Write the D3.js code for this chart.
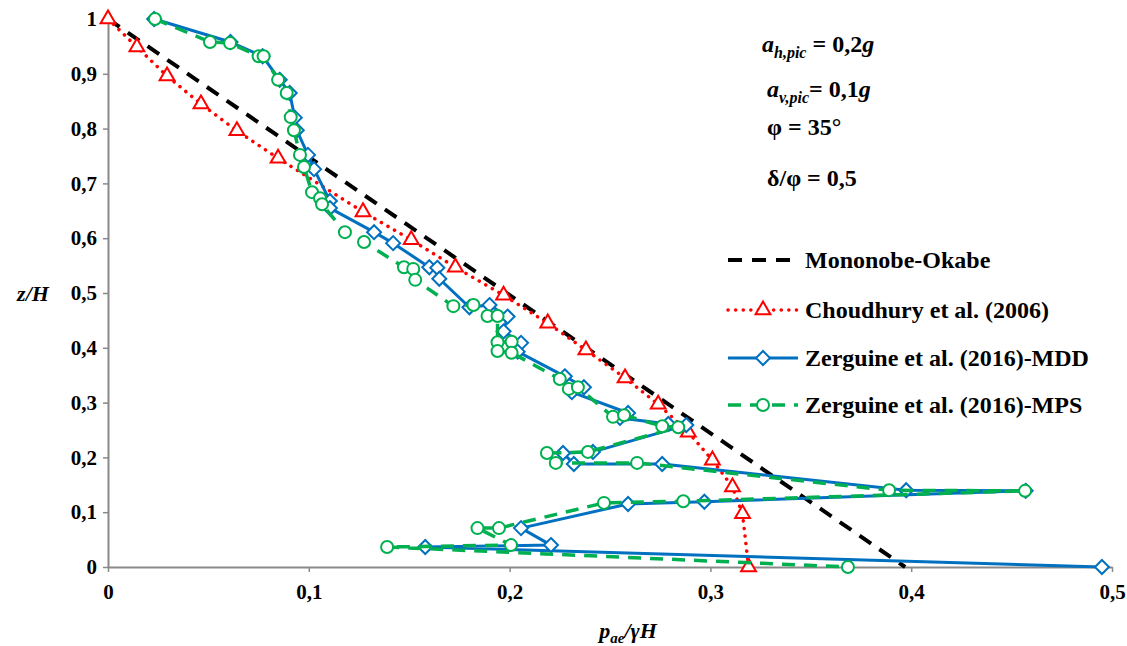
<!DOCTYPE html>
<html><head><meta charset="utf-8">
<script src="https://cdn.jsdelivr.net/npm/d3@7"></script>
<style>body{margin:0;background:#fff}svg{display:block}
svg text{font-family:"Liberation Serif","Times New Roman","Nimbus Roman","DejaVu Serif",serif !important;font-weight:bold;fill:#000}</style>
</head><body><svg id="c" width="1127" height="646"></svg>
<script>
// ---- data ----
const xTicks = [0, 0.1, 0.2, 0.3, 0.4, 0.5];
const yTicks = [0, 0.1, 0.2, 0.3, 0.4, 0.5, 0.6, 0.7, 0.8, 0.9, 1];
const seriesNames = ["Mononobe-Okabe", "Choudhury et al. (2006)", "Zerguine et al. (2016)-MDD", "Zerguine et al. (2016)-MPS"];
const mononobe = [[0, 1], [0.397, 0]];
const choudhury = [[0,1],[0.0144,0.949],[0.0294,0.896],[0.0463,0.845],[0.0642,0.796],[0.0847,0.746],[0.127,0.648],[0.151,0.597],[0.173,0.547],[0.197,0.496],[0.219,0.445],[0.238,0.396],[0.2575,0.345],[0.274,0.297],[0.289,0.246],[0.301,0.195],[0.311,0.146],[0.316,0.097],[0.319,0]];
const mdd = [[0.023,1],[0.061,0.958],[0.077,0.932],[0.0855,0.889],[0.0905,0.865],[0.093,0.82],[0.094,0.797],[0.0996,0.752],[0.1026,0.726],[0.1105,0.668],[0.1105,0.655],[0.1325,0.611],[0.142,0.591],[0.160,0.547],[0.164,0.546],[0.165,0.526],[0.180,0.474],[0.190,0.478],[0.199,0.457],[0.197,0.43],[0.2057,0.409],[0.204,0.393],[0.2275,0.348],[0.237,0.328],[0.231,0.319],[0.259,0.281],[0.255,0.272],[0.279,0.261],[0.288,0.259],[0.2415,0.21],[0.2266,0.208],[0.232,0.188],[0.276,0.188],[0.3975,0.14],[0.457,0.139],[0.297,0.119],[0.259,0.115],[0.2057,0.071],[0.2206,0.040],[0.158,0.0365],[0.495,0]];
const mps = [[0.0234,1],[0.0508,0.958],[0.0608,0.956],[0.075,0.932],[0.0775,0.932],[0.0847,0.889],[0.089,0.865],[0.091,0.821],[0.0926,0.797],[0.0956,0.752],[0.0976,0.730],[0.1016,0.684],[0.1056,0.673],[0.1066,0.662],[0.118,0.611],[0.1275,0.593],[0.1474,0.547],[0.152,0.544],[0.153,0.524],[0.172,0.476],[0.182,0.478],[0.189,0.458],[0.194,0.458],[0.194,0.41],[0.201,0.411],[0.194,0.394],[0.201,0.391],[0.225,0.343],[0.2295,0.325],[0.234,0.328],[0.2515,0.274],[0.257,0.277],[0.276,0.257],[0.284,0.255],[0.239,0.210],[0.2186,0.208],[0.223,0.190],[0.2635,0.19],[0.389,0.14],[0.4567,0.139],[0.2865,0.12],[0.247,0.117],[0.1947,0.071],[0.184,0.071],[0.2007,0.040],[0.139,0.0365],[0.3685,0]];

// ---- chart ----
const svg = d3.select("#c");
const x = d3.scaleLinear().domain([0, 0.5]).range([108, 1112]);
const y = d3.scaleLinear().domain([0, 1]).range([567, 19]);
const fmt = d => (d === 0 || d === 1) ? String(d) : d.toFixed(1).replace(".", ",");
const axisCol = "#898989";
const FONT = '"Liberation Serif","Times New Roman","Nimbus Roman","DejaVu Serif",serif';

const gx = svg.append("g").attr("transform", `translate(0,${y(0)})`)
  .call(d3.axisBottom(x).tickValues(xTicks).tickFormat(fmt).tickSize(5).tickPadding(12).tickSizeOuter(0));
const gy = svg.append("g").attr("transform", `translate(${x(0)},0)`)
  .call(d3.axisLeft(y).tickValues(yTicks).tickFormat(fmt).tickSize(5).tickPadding(6).tickSizeOuter(0));
[gx, gy].forEach(g => {
  g.attr("font-family", FONT);
  g.select(".domain").attr("stroke", axisCol).attr("stroke-width", 2);
  g.selectAll(".tick line").attr("stroke", axisCol).attr("stroke-width", 1.5);
  g.selectAll(".tick text").attr("font-size", 21).attr("font-weight", "bold").attr("fill", "#000");
});

const line = d3.line().x(d => x(d[0])).y(d => y(d[1]));
const styles = [
  {data: mononobe, color: "#000", width: 4, dash: "14 10", marker: null},
  {data: choudhury, color: "#FF0000", width: 3.5, dash: "0.1 7.5", cap: "round", marker: "tri"},
  {data: mdd, color: "#0070C0", width: 3, dash: null, marker: "dia"},
  {data: mps, color: "#00B050", width: 3.5, dash: "13 9", marker: "circ"}
];
function marker(g, type, color, cx, cy) {
  if (type === "tri") {
    g.append("path").attr("d", d3.symbol(d3.symbolTriangle, 95)()).attr("transform", `translate(${cx},${cy})`)
      .attr("fill", "#fff").attr("stroke", color).attr("stroke-width", 2);
  } else if (type === "dia") {
    g.append("path").attr("d", "M0,-7L7,0L0,7L-7,0Z").attr("transform", `translate(${cx},${cy})`)
      .attr("fill", "#fff").attr("stroke", color).attr("stroke-width", 2);
  } else if (type === "circ") {
    g.append("circle").attr("cx", cx).attr("cy", cy).attr("r", 6)
      .attr("fill", "#fff").attr("stroke", color).attr("stroke-width", 2);
  }
}
styles.forEach(s => {
  const g = svg.append("g");
  g.append("path").attr("d", line(s.data)).attr("fill", "none").attr("stroke", s.color)
    .attr("stroke-width", s.width).attr("stroke-dasharray", s.dash).attr("stroke-linecap", s.cap || "butt").attr("stroke-linejoin", "round");
  if (s.marker) s.data.forEach(d => marker(g, s.marker, s.color, x(d[0]), y(d[1])));
});

// legend
const legY = [260, 310, 358, 405];
styles.forEach((s, i) => {
  const g = svg.append("g");
  g.append("line").attr("x1", 728).attr("x2", 798).attr("y1", legY[i]).attr("y2", legY[i])
    .attr("stroke", s.color).attr("stroke-width", s.width).attr("stroke-dasharray", s.dash).attr("stroke-linecap", s.cap || "butt");
  if (s.marker) marker(g, s.marker, s.color, 763, legY[i]);
  g.append("text").attr("x", 805).attr("y", legY[i] + 8).attr("font-size", 24).text(seriesNames[i]);
});

// annotations
function ann(xp, yp, parts) {
  const t = svg.append("text").attr("x", xp).attr("y", yp).attr("font-size", 24);
  parts.forEach(p => {
    const ts = t.append("tspan").text(p.t);
    if (p.i) ts.attr("font-style", "italic");
    if (p.sub) ts.attr("font-size", 16).attr("dy", 6);
    if (p.up) ts.attr("dy", -6);
  });
}
ann(762, 52, [{t: "a", i: 1}, {t: "h,pic", i: 1, sub: 1}, {t: " = 0,2", up: 1}, {t: "g", i: 1}]);
ann(767, 97, [{t: "a", i: 1}, {t: "v,pic", i: 1, sub: 1}, {t: "= 0,1", up: 1}, {t: "g", i: 1}]);
ann(767, 135, [{t: "φ = 35°"}]);
ann(767, 186, [{t: "δ/φ = 0,5"}]);

// axis titles
const xt = svg.append("text").attr("x", 628).attr("y", 638).attr("text-anchor", "middle").attr("font-size", 22).attr("font-style", "italic");
xt.append("tspan").text("p");
xt.append("tspan").text("ae").attr("font-size", 15).attr("dy", 5);
xt.append("tspan").text("/γH").attr("dy", -5);
svg.append("text").attr("x", 33).attr("y", 301).attr("text-anchor", "middle").attr("font-size", 22).attr("font-style", "italic").text("z/H");
</script></body></html>
